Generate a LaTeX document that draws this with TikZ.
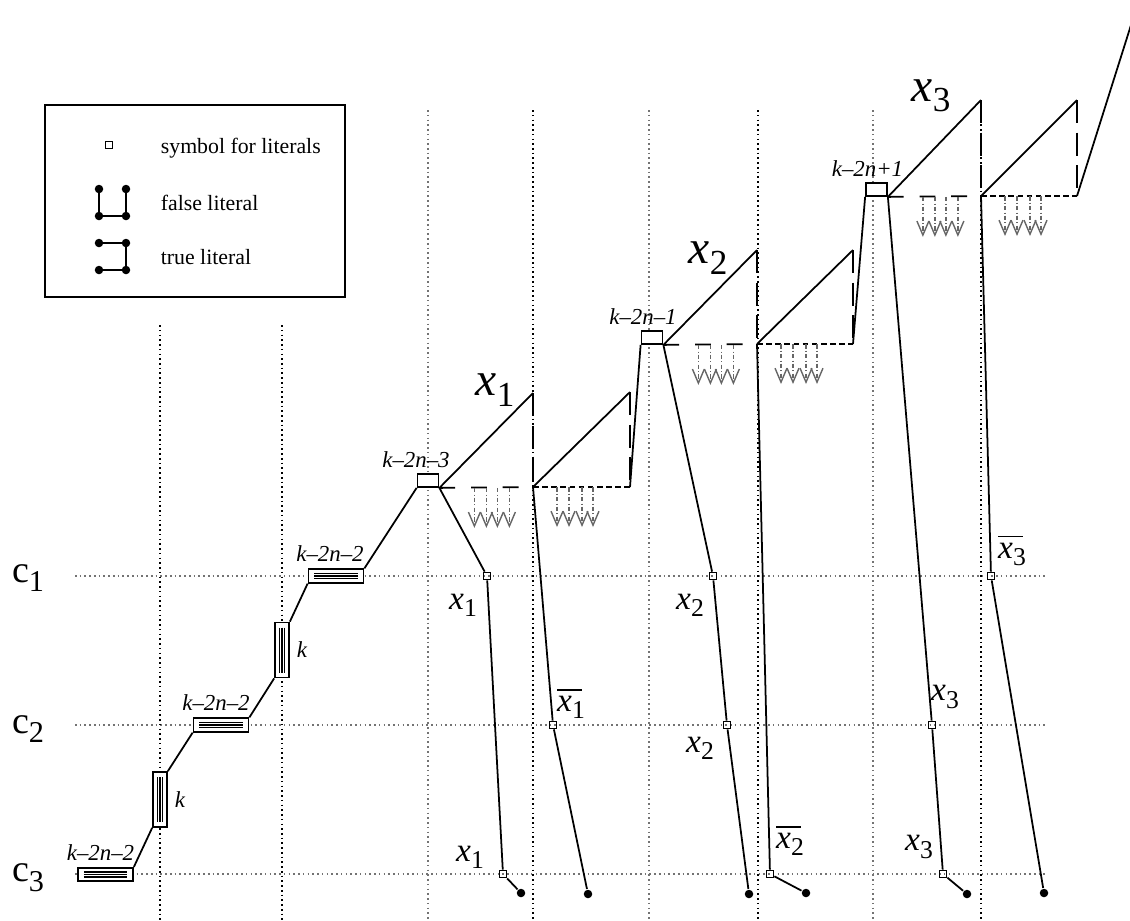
\documentclass[tikz,border=0pt]{standalone}
\usepackage{fontspec}
\setmainfont{Liberation Serif}
\usetikzlibrary{arrows.meta,positioning}

\newcommand{\vsub}[2]{\textit{x}\raisebox{-0.22em}{\fontsize{#2}{#2}\selectfont #1}}
\newcommand{\nvsub}[2]{\rlap{\raisebox{0.62em}{\rule{0.75em}{0.035em}}}\vsub{#1}{#2}}
\newcommand{\clab}[1]{c\raisebox{-0.26em}{\fontsize{8.6}{8.6}\selectfont #1}}

\tikzset{
  gridk/.style={line width=0.45pt, dash pattern=on 0.45pt off 0.9pt},
  gridg/.style={gridk, draw=black!55},
  lit/.style={draw, rectangle, inner sep=0pt, minimum size=0.07cm},
  fdot/.style={circle, fill, inner sep=0pt, minimum size=0.085cm},
  litbox/.style={draw, rectangle, fill=white, inner sep=0pt,
    minimum width=0.21cm, minimum height=0.13cm},
  hbar/.style={draw, fill=white, inner sep=0pt,
    minimum width=0.55cm, minimum height=0.135cm,
    path picture={\foreach \o in {-0.025,0,0.025}
      \draw[line width=0.4pt] ([xshift=0.06cm,yshift=\o cm]path picture bounding box.west)
        -- ([xshift=-0.06cm,yshift=\o cm]path picture bounding box.east);}},
  vbar/.style={draw, fill=white, inner sep=0pt,
    minimum width=0.14cm, minimum height=0.55cm,
    path picture={\foreach \o in {-0.025,0,0.025}
      \draw[line width=0.4pt] ([xshift=\o cm,yshift=-0.05cm]path picture bounding box.north)
        -- ([xshift=\o cm,yshift=0.05cm]path picture bounding box.south);}},
  klab/.style={font=\fontsize{6.5}{7}\selectfont\itshape, inner sep=0pt},
  leg/.style={font=\fontsize{6.2}{7}\selectfont, inner sep=0pt, anchor=west},
  big/.style={font=\fontsize{13.5}{15}\selectfont, inner sep=0pt},
  mid/.style={font=\fontsize{9.5}{11}\selectfont, inner sep=0pt},
  clause/.style={font=\fontsize{10.8}{12}\selectfont, inner sep=0pt},
  hdash/.style={dash pattern=on 4.5pt off 4.5pt},
  vdash/.style={dash pattern=on 6.5pt off 2.8pt},
  sdash/.style={dash pattern=on 1.6pt off 1pt},
  tick/.style={draw=black!60, line width=0.4pt,
    dash pattern=on 1.3pt off 0.6pt on 0.3pt off 0.6pt,
    -{Straight Barb[length=4pt,width=3.4pt]}}
}

\begin{document}
\begin{tikzpicture}[x=0.01cm, y=-0.01cm, line width=0.5pt]
  \useasboundingbox (0,0) rectangle (1130,920);

  % grid of clauses and columns
  \foreach \y in {576,725,874} \draw[gridg] (75,\y) -- (1045,\y);
  \foreach \x in {160,282} \draw[gridk] (\x,325) -- (\x,920);
  \foreach \x in {533,758,981} \draw[gridk] (\x,110) -- (\x,920);
  \foreach \x in {428,649,873} \draw[gridg] (\x,110) -- (\x,920);

  \node[clause] (c1) at (28,578) {\clab{1}};
  \node[clause] (c2) at (28,729) {\clab{2}};
  \node[clause] (c3) at (28,878) {\clab{3}};

  % legend
  \node[draw, minimum width=3cm, minimum height=1.92cm] (legend) at (195,201) {};
  \node[lit] (lsym) at (109,145) {};
  \node[leg] (lsymt) at (160,148) {symbol for literals};
  \node[fdot] (f1) at (99,189) {};
  \node[fdot] (f2) at (126,189) {};
  \node[fdot] (f3) at (99,216) {};
  \node[fdot] (f4) at (126,216) {};
  \draw (f1.center) -- (f3.center) -- (f4.center) -- (f2.center);
  \node[leg] (ft) at (160,203) {false literal};
  \node[fdot] (u1) at (99,243) {};
  \node[fdot] (u2) at (126,243) {};
  \node[fdot] (u3) at (99,270) {};
  \node[fdot] (u4) at (126,270) {};
  \draw (u1.center) -- (u2.center) -- (u4.center) -- (u3.center);
  \node[leg] (ut) at (160,257) {true literal};

  % staircase of counters
  \node[hbar] (hb1) at (105.5,874.5) {};
  \node[vbar] (vb1) at (160,799.5) {};
  \node[hbar] (hb2) at (221,725) {};
  \node[vbar] (vb2) at (282,650) {};
  \node[hbar] (hb3) at (336,576) {};
  \node[klab, above=0.06cm of hb1, xshift=-0.05cm] (hb1t) {k--2n--2};
  \node[klab, above=0.06cm of hb2, xshift=-0.05cm] (hb2t) {k--2n--2};
  \node[klab, above=0.06cm of hb3, xshift=-0.06cm] (hb3t) {k--2n--2};
  \node[klab, right=0.06cm of vb1] (vb1t) {k};
  \node[klab, right=0.06cm of vb2] (vb2t) {k};

  % variable gadgets
  \node[litbox] (lb1) at (428,480.5) {};
  \node[litbox] (lb2) at (652,337.5) {};
  \node[litbox] (lb3) at (876.5,189.5) {};
  \node[klab, above=0.05cm of lb1, xshift=-0.12cm] (lb1t) {k--2n--3};
  \node[klab, above=0.05cm of lb2, xshift=-0.09cm] (lb2t) {k--2n--1};
  \node[klab, above=0.05cm of lb3, xshift=-0.09cm] (lb3t) {k--2n+1};

  \draw (hb1.north east) -- (vb1.south west);
  \draw (vb1.north east) -- (hb2.south west);
  \draw (hb2.north east) -- (vb2.south west);
  \draw (vb2.north east) -- (hb3.south west);
  \draw (hb3.north east) -- (lb1.south west);

  \coordinate (t1) at (533,393);  \coordinate (m1) at (533,487);
  \coordinate (s1) at (630,392);  \coordinate (r1) at (630,487);
  \coordinate (t2) at (757,250);  \coordinate (m2) at (757,344);
  \coordinate (s2) at (853,250);  \coordinate (r2) at (853,344);
  \coordinate (t3) at (981,100);  \coordinate (m3) at (981,196);
  \coordinate (s3) at (1077,100); \coordinate (r3) at (1077,196);
  \coordinate (e3) at (1131,25);

  \foreach \n in {1,2,3} {
    \draw (lb\n.south east) -- (t\n);
    \draw[hdash] (lb\n.south east) -- (m\n);
    \draw[vdash] (t\n) -- (m\n);
    \draw (m\n) -- (s\n);
    \draw[sdash] (m\n) -- (r\n);
    \draw[vdash] (s\n) -- (r\n);
    \foreach \o in {35,47,58,70}
      \draw[tick] ([xshift=\o*0.01cm]lb\n.south east) -- ++(0,40);
    \foreach \o in {24,36,49,60}
      \draw[tick] ([xshift=\o*0.01cm]m\n) -- ++(0,40);
  }
  \draw (r1) -- (lb2.south west);
  \draw (r2) -- (lb3.south west);
  \draw (r3) -- (e3);

  \node[big] (x1) at (495,390) {\vsub{1}{10}};
  \node[big] (x2) at (708,258) {\vsub{2}{10}};
  \node[big] (x3) at (931,96) {\vsub{3}{10}};

  % literals in the clauses
  \node[lit] (a1) at (487,576) {};
  \node[lit] (a2) at (503,874) {};
  \node[lit] (b1) at (553,725) {};
  \node[lit] (a3) at (713,576) {};
  \node[lit] (a4) at (727,725) {};
  \node[lit] (b2) at (770,874) {};
  \node[lit] (a5) at (932,725) {};
  \node[lit] (a6) at (943,874) {};
  \node[lit] (b3) at (991,576) {};
  \node[fdot] (d1) at (521,893) {};
  \node[fdot] (d2) at (588,894) {};
  \node[fdot] (d3) at (749,894) {};
  \node[fdot] (d4) at (806,893) {};
  \node[fdot] (d5) at (967,894) {};
  \node[fdot] (d6) at (1044,893) {};

  \draw (lb1.south east) -- (a1) -- (a2) -- (d1);
  \draw (m1) -- (b1) -- (d2);
  \draw (lb2.south east) -- (a3) -- (a4) -- (d3);
  \draw (m2) -- (b2) -- (d4);
  \draw (lb3.south east) -- (a5) -- (a6) -- (d5);
  \draw (m3) -- (b3) -- (d6);

  \node[mid] (a1t) at (463,605) {\vsub{1}{7.3}};
  \node[mid] (b1t) at (571,704) {\nvsub{1}{7.3}};
  \node[mid] (a2t) at (470,857) {\vsub{1}{7.3}};
  \node[mid] (a3t) at (690,605) {\vsub{2}{7.3}};
  \node[mid] (a4t) at (700,748) {\vsub{2}{7.3}};
  \node[mid] (b2t) at (790,841) {\nvsub{2}{7.3}};
  \node[mid] (b3t) at (1012,551) {\nvsub{3}{7.3}};
  \node[mid] (a5t) at (945,697) {\vsub{3}{7.3}};
  \node[mid] (a6t) at (919,847) {\vsub{3}{7.3}};
\end{tikzpicture}
\end{document}
